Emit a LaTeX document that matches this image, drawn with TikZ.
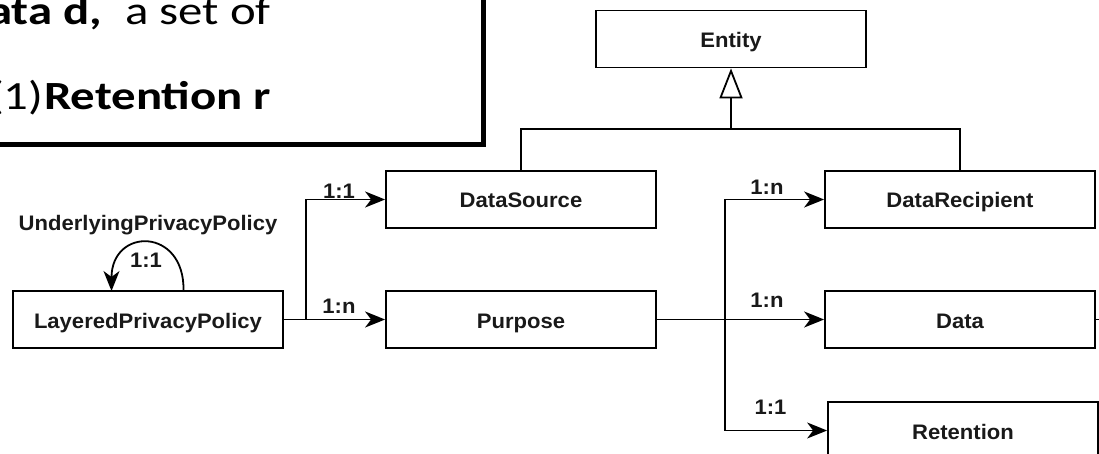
\documentclass[tikz,border=0pt]{standalone}
\usepackage{fontspec}
\setmainfont[FakeStretch=1.05]{Liberation Sans}
\newfontfamily\calloutfont[FakeStretch=1.22]{Carlito}
\usetikzlibrary{arrows.meta}

\begin{document}
\begin{tikzpicture}[x=1pt,y=-1pt,
  cls/.style={draw=black, line width=1.8pt, minimum width=270pt, minimum height=57pt,
    inner sep=0pt, text height=17pt, text depth=0pt,
    font=\fontsize{21}{24}\selectfont\bfseries, text=black!90},
  link/.style={draw=black, line width=1.8pt},
  assoc/.style={link, -{Stealth[length=20pt,width=16pt,inset=6pt]}},
  mult/.style={font=\fontsize{21}{24}\selectfont\bfseries, inner sep=0pt, text=black!90},
  callout/.style={anchor=base west, inner sep=0pt, font=\calloutfont\fontsize{40}{48}\selectfont},
]
\useasboundingbox (0,0) rectangle (1099,454);
\clip (0,0) rectangle (1099,454);

% framed annotation in the upper left corner
\draw[line width=4.5pt] (-20,-20) rectangle (483.5,144.5);
\node[callout] (line1a) at (-12,25) {\bfseries ata d,};
\node[callout] (line1b) at (125,25) {a set of};
\node[callout] (line2a) at (-11,110) {(1)};
\node[callout] (line2b) at (44,110) {\bfseries Retention r};

% classes
\node[cls] (entity) at (731,39)    {Entity};
\node[cls] (src)    at (521,199.5) {DataSource};
\node[cls] (rcp)    at (960,199.5) {DataRecipient};
\node[cls] (lpp)    at (148,319.5) {LayeredPrivacyPolicy};
\node[cls] (purp)   at (521,319.5) {Purpose};
\node[cls] (data)   at (960,319.5) {Data};
\node[cls] (ret)    at (963,430.5) {Retention};

% generalization tree
\coordinate (gen) at (731,129);
\draw[link] (src.north) |- (gen) -| (rcp.north);
\draw[link, -{Triangle[open, length=30pt, width=23pt]}] (gen) -- (entity.south);

% associations of the layered policy
\coordinate (lj) at (306,319.5);
\draw[link] (lpp.east) -- (lj);
\draw[assoc] (lj) |- (src.west);
\draw[assoc] (lj) -- (purp.west);
\node[mult] (m1) at (339,191) {1:1};
\node[mult] (m2) at (339,306) {1:n};

% self association
\coordinate (loopa) at (183.5,291);
\coordinate (loopb) at (111.5,291);
\draw[assoc] (loopa) .. controls (185,227) and (111.5,227) .. (loopb);
\node[mult] (loopname) at (148,225) {UnderlyingPrivacyPolicy};
\node[mult] (m0) at (146,260) {1:1};

% associations of the purpose
\coordinate (pj) at (725,319.5);
\coordinate (pk) at (725,376);
\draw[link] (purp.east) -- (pj);
\draw[assoc] (pj) |- (rcp.west);
\draw[assoc] (pj) -- (data.west);
\draw[assoc, line width=1.4pt] (pj) |- (ret.west);
\draw[link, line width=2.8pt] (pj) -- (pk);
\node[mult] (m3) at (767,187.5) {1:n};
\node[mult] (m4) at (767,300) {1:n};
\node[mult] (m5) at (770.5,407.5) {1:1};

% continuation leaving on the right
\coordinate (dataout) at (1110,319.5);
\draw[link] (data.east) -- (dataout);
\end{tikzpicture}
\end{document}
